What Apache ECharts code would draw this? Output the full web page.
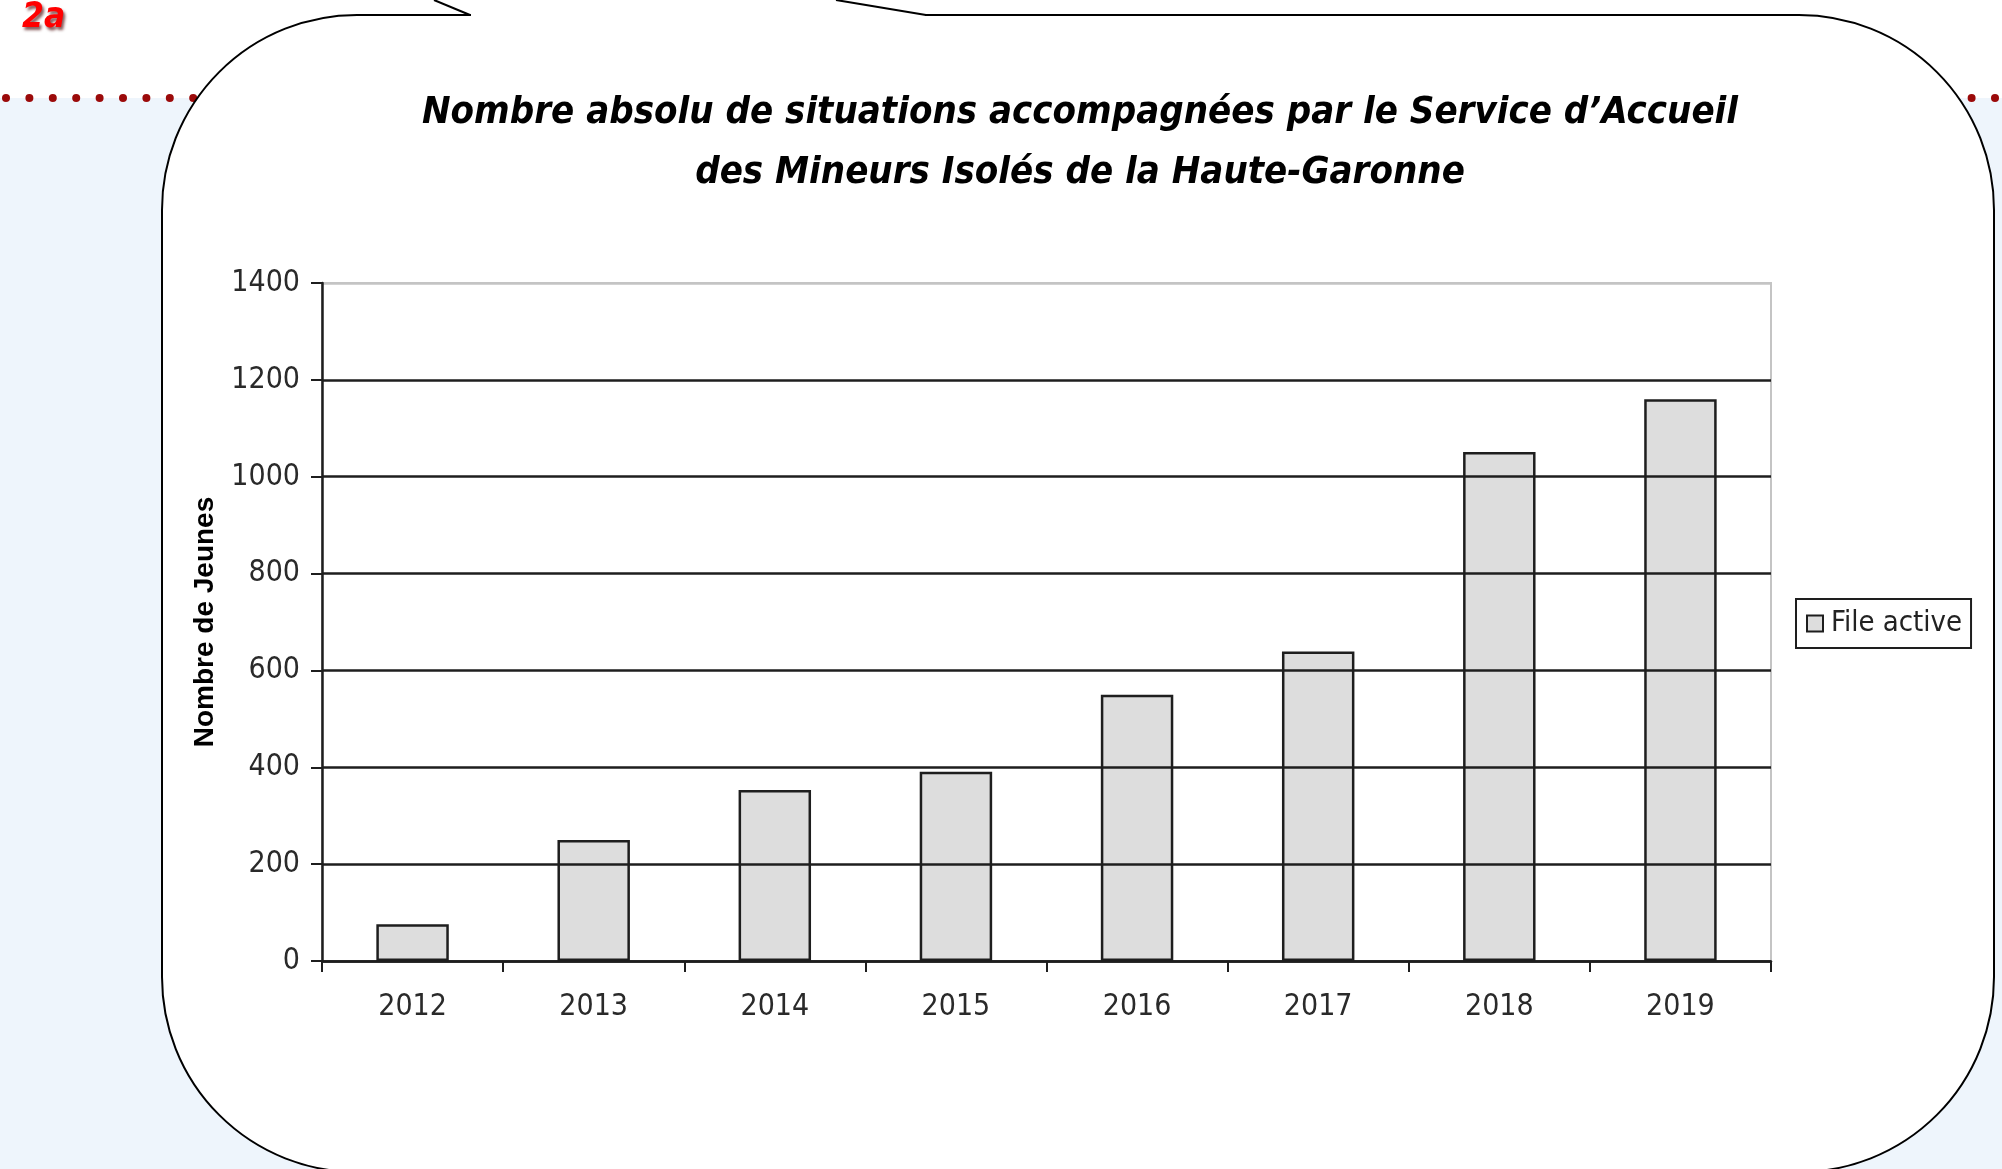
<!DOCTYPE html>
<html>
<head>
<meta charset="utf-8">
<title>Situations accompagnées - Haute-Garonne</title>
<script src="https://cdn.jsdelivr.net/npm/echarts@6/dist/echarts.min.js"></script>
<style>
  html, body { margin: 0; padding: 0; background: #fff; }
  #chart { width: 2002px; height: 1169px; }
</style>
</head>
<body>
<div id="chart"></div>
<script>
// Data
const years = ['2012', '2013', '2014', '2015', '2016', '2017', '2018', '2019'];
const fileActive = [76, 250, 353, 391, 550, 639, 1051, 1160];
const yMin = 0;
const yMax = 1400;
const yStep = 200;

const titleLines = [
  'Nombre absolu de situations accompagnées par le Service d\u2019Accueil',
  'des Mineurs Isolés de la Haute-Garonne'
];

const narrowFont = '"Liberation Sans Narrow", "Arial Narrow", "DejaVu Sans Condensed", sans-serif';
const ink = '#1e1e1e';

const chart = echarts.init(document.getElementById('chart'));

// slide decoration: dotted red rule, speech bubble, "2a" tag
const dots = [];
for (let x = 6; x < 2002; x += 23.4) {
  dots.push({
    type: 'circle',
    shape: { cx: x, cy: 98, r: 4 },
    style: { fill: '#9b0a0a' }
  });
}

chart.setOption({
  backgroundColor: '#ffffff',
  animation: false,
  graphic: [
    {
      type: 'rect',
      shape: { x: 0, y: 98, width: 2002, height: 1071 },
      style: { fill: '#eef5fc' },
      z: 0
    },
    { type: 'group', children: dots, z: 1 },
    {
      type: 'rect',
      shape: { x: 162, y: 15, width: 1832, height: 1157, r: 195 },
      style: { fill: '#ffffff', stroke: '#000000', lineWidth: 2 },
      z: 2
    },
    {
      // opening of the bubble tail
      type: 'rect',
      shape: { x: 471, y: 11, width: 454, height: 8 },
      style: { fill: '#ffffff' },
      z: 2
    },
    {
      type: 'polyline',
      shape: { points: [[434, 0], [470, 15]] },
      style: { stroke: '#000000', lineWidth: 2 },
      z: 2
    },
    {
      type: 'polyline',
      shape: { points: [[836, 0], [926, 15]] },
      style: { stroke: '#000000', lineWidth: 2 },
      z: 2
    },
    {
      type: 'text',
      x: 22,
      y: 0,
      style: {
        text: '2a',
        fill: '#ff0000',
        font: 'italic bold 35px "DejaVu Sans Condensed", sans-serif',
        textShadowColor: 'rgba(70,0,0,0.65)',
        textShadowBlur: 3,
        textShadowOffsetX: 2,
        textShadowOffsetY: 3
      },
      z: 3
    },
    {
      type: 'text',
      x: 1080,
      y: 83,
      style: {
        text: titleLines.join('\n'),
        fill: '#000000',
        font: 'italic bold 38px "DejaVu Sans Condensed", sans-serif',
        align: 'center',
        verticalAlign: 'top',
        lineHeight: 60
      },
      z: 3
    }
  ],
  legend: {
    data: ['File active'],
    left: 1796,
    top: 599,
    orient: 'vertical',
    padding: [10, 9, 10, 10],
    backgroundColor: '#ffffff',
    borderColor: ink,
    borderWidth: 2,
    borderRadius: 0,
    itemWidth: 16,
    itemHeight: 16,
    itemGap: 4,
    icon: 'rect',
    itemStyle: { color: '#dddddd', borderColor: ink, borderWidth: 2 },
    textStyle: {
      color: '#222',
      fontFamily: narrowFont,
      fontSize: 29,
      padding: [0, 0, 0, 3]
    },
    z: 10
  },
  grid: {
    left: 322,
    right: 231,
    top: 283,
    bottom: 208,
    containLabel: false,
    show: true,
    backgroundColor: '#ffffff',
    borderColor: '#c4c4c4',
    borderWidth: 2,
    z: 4
  },
  xAxis: {
    type: 'category',
    data: years,
    z: 6,
    axisLine: { lineStyle: { color: ink, width: 2.5 } },
    axisTick: { show: true, length: 11, lineStyle: { color: ink, width: 2 } },
    axisLabel: {
      color: '#2a2a2a',
      fontFamily: narrowFont,
      fontSize: 30,
      margin: 31
    },
    splitLine: { show: false }
  },
  yAxis: {
    type: 'value',
    min: yMin,
    max: yMax,
    interval: yStep,
    z: 6,
    name: 'Nombre de Jeunes',
    nameLocation: 'middle',
    nameRotate: 90,
    nameGap: 103,
    nameTextStyle: {
      color: '#000',
      fontFamily: 'Arial, "Liberation Sans", sans-serif',
      fontWeight: 'bold',
      fontSize: 28
    },
    axisLine: { show: true, lineStyle: { color: ink, width: 2.5 } },
    axisTick: { show: true, length: 11, lineStyle: { color: ink, width: 2 } },
    axisLabel: {
      color: '#2a2a2a',
      fontFamily: narrowFont,
      fontSize: 30,
      margin: 22,
      formatter: (value) => String(value)
    },
    splitLine: {
      show: true,
      lineStyle: {
        width: 2.5,
        color: [ink, ink, ink, ink, ink, ink, ink, '#c4c4c4']
      }
    }
  },
  series: [
    {
      name: 'File active',
      type: 'bar',
      data: fileActive,
      barWidth: '40%',
      z: 5,
      itemStyle: {
        color: '#dddddd',
        borderColor: ink,
        borderWidth: 2.5
      }
    }
  ]
});
</script>
</body>
</html>
